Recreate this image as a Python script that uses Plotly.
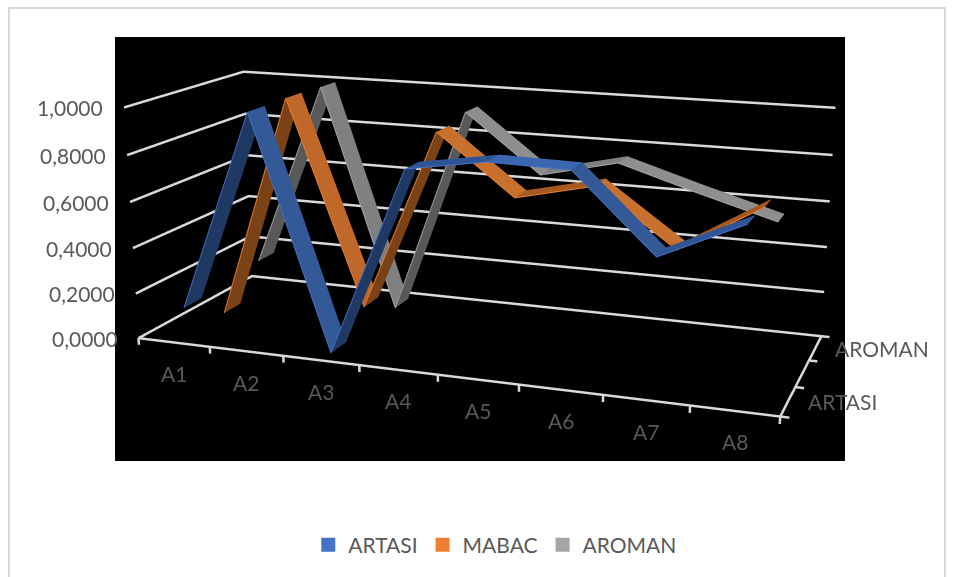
import numpy as np
import plotly.graph_objects as go

WIDTH, HEIGHT = 958, 577

categories = ["A1", "A2", "A3", "A4", "A5", "A6", "A7", "A8"]
series_names = ["ARTASI", "MABAC", "AROMAN"]
artasi = [0.126, 0.998, 0.002, 0.812, 0.866, 0.860, 0.547, 0.707]
mabac = [0.003, 1.000, 0.104, 0.900, 0.647, 0.724, 0.488, 0.694]
aroman = [0.157, 0.995, 0.000, 0.926, 0.673, 0.751, 0.649, 0.553]
value_ticks = [0, 0.2, 0.4, 0.6, 0.8, 1.0]

base_colors = ["#4472C4", "#ED7D31", "#A5A5A5"]
# Ribbon shading: steep rise, shallow rise, steep fall, shallow fall
shades = [
    ("#203864", "#2f5597", "#335a96", "#3b67b0"),
    ("#7a4216", "#a5581f", "#c0682a", "#c8702d"),
    ("#595959", "#7f7f7f", "#808080", "#8e8e8e"),
]
RIBBON_HALF_DEPTH = 0.22

# Oblique view of the chart box: (category, series, value) -> scene coordinates
VIEW_X = np.array([67.4064, 48.8307, -19.285, 103.76])
VIEW_Y = np.array([3.22166, -8.12013, -233.18, 333.887])
VIEW_W = np.array([-0.0156036, 0.0449174, -0.0398962])
FOCAL = HEIGHT / 2 / np.tan(np.pi / 8)
DEPTH_SCALE = 1.25 / (VIEW_W @ np.array([4.5, 1.5, 0.5]) + 1)


def to_scene(cat, ser, val):
    p = np.array([cat, ser, val], float)
    w = DEPTH_SCALE * (VIEW_W @ p + 1)
    a = DEPTH_SCALE * (VIEW_X[:3] @ p + VIEW_X[3])
    b = DEPTH_SCALE * (VIEW_Y[:3] @ p + VIEW_Y[3])
    return (float((a - WIDTH / 2 * w) / FOCAL), float(w - 1.25), float((HEIGHT / 2 * w - b) / FOCAL))


def polylines(paths):
    xs, ys, zs = [], [], []
    for path in paths:
        for point in path:
            x, y, z = to_scene(*point)
            xs.append(x)
            ys.append(y)
            zs.append(z)
        xs.append(None)
        ys.append(None)
        zs.append(None)
    return xs, ys, zs


fig = go.Figure()

# Wall gridlines, floor edges and tick marks
frame = [[(0.5, 0, v), (0.5, 3, v), (8.5, 3, v)] for v in value_ticks]
frame.append([(0.5, 0, 0), (8.5, 0, 0), (8.5, 3, 0)])
frame += [[(i + 0.5, 0, 0), (i + 0.5, 0, -0.03)] for i in range(len(categories) + 1)]
frame += [[(8.5, t, 0), (8.6, t, 0)] for t in range(4)]
fx, fy, fz = polylines(frame)
fig.add_trace(go.Scatter3d(x=fx, y=fy, z=fz, mode="lines",
                           line=dict(color="#d9d9d9", width=5),
                           showlegend=False, hoverinfo="skip"))

# One ribbon per series, with a thin bright line along its front edge
for s, values in enumerate([artasi, mabac, aroman]):
    front, back = s + 0.5 - RIBBON_HALF_DEPTH, s + 0.5 + RIBBON_HALF_DEPTH
    xs, ys, zs = [], [], []
    for i, v in enumerate(values):
        for depth in (front, back):
            x, y, z = to_scene(i + 1, depth, v)
            xs.append(x)
            ys.append(y)
            zs.append(z)
    ii, jj, kk, face = [], [], [], []
    for i in range(len(values) - 1):
        a = 2 * i
        ii += [a, a + 1]
        jj += [a + 1, a + 3]
        kk += [a + 2, a + 2]
        dv = values[i + 1] - values[i]
        shade = shades[s][0 if dv > 0.3 else 1 if dv > 0 else 2 if dv < -0.3 else 3]
        face += [shade, shade]
    fig.add_trace(go.Mesh3d(x=xs, y=ys, z=zs, i=ii, j=jj, k=kk, facecolor=face, flatshading=True,
                            lighting=dict(ambient=1, diffuse=0, specular=0, fresnel=0, roughness=1),
                            hoverinfo="skip", showlegend=False))
    ex, ey, ez = polylines([[(i + 1, front, v) for i, v in enumerate(values)]])
    fig.add_trace(go.Scatter3d(x=ex, y=ey, z=ez, mode="lines",
                               line=dict(color=base_colors[s], width=2),
                               showlegend=False, hoverinfo="skip"))
    fig.add_trace(go.Scatter3d(x=[None], y=[None], z=[None], mode="markers", name=series_names[s],
                               marker=dict(symbol="square", size=14, color=base_colors[s]),
                               hoverinfo="skip"))

label_font = dict(family="Lato", size=21, color="#595959")
labels = []


def add_label(point, text, **kwargs):
    x, y, z = to_scene(*point)
    labels.append(dict(x=x, y=y, z=z, text=text, showarrow=False, font=label_font, **kwargs))


for v in value_ticks:
    add_label((0.5, 0, v), f"{v:.4f}".replace(".", ","), xanchor="right", yanchor="middle", xshift=-19)
for i, name in enumerate(categories):
    add_label((i + 1, 0, 0), name, xanchor="center", yanchor="middle", yshift=-31, xshift=0)
add_label((8.5, 0.5, 0), "ARTASI", xanchor="left", yanchor="middle", xshift=18)
add_label((8.5, 2.5, 0), "AROMAN", xanchor="left", yanchor="middle", xshift=18)

hidden_axis = dict(visible=False, range=[-1, 1])
fig.update_layout(
    width=WIDTH, height=HEIGHT, margin=dict(l=0, r=0, t=0, b=0),
    paper_bgcolor="white", font=label_font,
    legend=dict(orientation="h", x=0.517, xanchor="center", y=0.0196, yanchor="bottom", font=label_font),
    scene=dict(
        dragmode="orbit", domain=dict(x=[0, 1], y=[0, 1]),
        aspectmode="manual", aspectratio=dict(x=1, y=1, z=1),
        xaxis=hidden_axis, yaxis=hidden_axis, zaxis=hidden_axis, annotations=labels,
        camera=dict(eye=dict(x=0, y=-0.625, z=0), center=dict(x=0, y=0, z=0),
                    up=dict(x=0, y=0, z=1), projection=dict(type="perspective")),
    ),
    shapes=[
        dict(type="rect", layer="below", xref="paper", yref="paper",
             x0=115 / WIDTH, x1=845 / WIDTH, y0=1 - 461 / HEIGHT, y1=1 - 37 / HEIGHT,
             fillcolor="black", line=dict(width=0)),
        dict(type="rect", layer="below", xref="paper", yref="paper",
             x0=9 / WIDTH, x1=945 / WIDTH, y0=-0.1, y1=1 - 8 / HEIGHT,
             line=dict(width=2, color="#d9d9d9")),
    ],
)
fig.write_html("out.html")
